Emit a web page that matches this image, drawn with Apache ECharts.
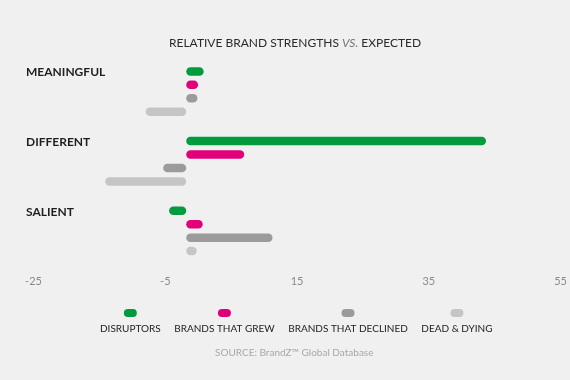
<!DOCTYPE html>
<html>
<head>
<meta charset="utf-8">
<script src="https://cdn.jsdelivr.net/npm/echarts@6/dist/echarts.min.js"></script>
<style>
  html, body { margin: 0; padding: 0; background: #f0f0f0; }
  #chart { width: 570px; height: 380px; }
</style>
</head>
<body>
<div id="chart"></div>
<script>
// ---- data ----
var categories = ['MEANINGFUL', 'DIFFERENT', 'SALIENT'];
var seriesNames = ['DISRUPTORS', 'BRANDS THAT GREW', 'BRANDS THAT DECLINED', 'DEAD & DYING'];
var disruptors = [2.65, 45.5, -2.6];
var brandsGrew = [1.8, 8.8, 2.5];
var brandsDeclined = [1.7, -3.5, 13.1];
var deadDying = [-6.15, -12.3, 1.6];
var xTicks = [-25, -5, 15, 35, 55];
var titleParts = ['RELATIVE BRAND STRENGTHS ', 'VS.', ' EXPECTED'];
var sourceText = 'SOURCE: BrandZ\u2122 Global Database';

var colors = ['#049b3e', '#e2007a', '#9b9b9b', '#c5c5c5'];
var seriesData = [disruptors, brandsGrew, brandsDeclined, deadDying];

var chart = echarts.init(document.getElementById('chart'));

var legendRich = { t: { fontFamily: 'Lato', fontSize: 10, color: '#222', align: 'center', lineHeight: 14 } };
colors.forEach(function (c, i) {
  legendRich['d' + i] = { backgroundColor: c, width: 13, height: 8, borderRadius: 4, align: 'center', lineHeight: 18 };
});

var option = {
  backgroundColor: '#f0f0f0',
  animation: false,
  title: [
    {
      text: '{a|' + titleParts[0] + '}{b|' + titleParts[1] + '}{a|' + titleParts[2] + '}',
      left: 164, top: 32,
      textStyle: {
        fontWeight: 'normal',
        rich: {
          a: { fontFamily: 'Lato', fontSize: 12, color: '#2a2a2a', fontWeight: 'normal' },
          b: { fontFamily: 'Lato', fontSize: 12, color: '#777', fontStyle: 'italic', fontWeight: 'normal' }
        }
      }
    },
    {
      text: sourceText,
      left: 210, top: 343,
      textStyle: { fontFamily: 'Lato', fontSize: 10, color: '#a8a8a8', fontWeight: 'normal' }
    }
  ],
  legend: {
    data: seriesNames,
    left: 90, top: 302,
    icon: 'none',
    itemWidth: 0, itemHeight: 0,
    itemGap: 8.5,
    formatter: function (name) {
      var i = seriesNames.indexOf(name);
      return '{d' + i + '|}\n{t|' + name + '}';
    },
    textStyle: { rich: legendRich, padding: 0 },
    selectedMode: false
  },
  grid: { left: 21.5, right: 20.5, top: 56.75, height: 209, containLabel: false },
  xAxis: {
    type: 'value', min: -25, max: 55, interval: 20,
    axisLine: { show: false }, axisTick: { show: false }, splitLine: { show: false },
    axisLabel: { fontFamily: 'Lato', fontSize: 11, color: '#8a8a8a', margin: 10, padding: [0, 0, 0, 24] }
  },
  yAxis: {
    type: 'category', data: categories, inverse: true,
    axisLine: { show: false }, axisTick: { show: false }, splitLine: { show: false },
    axisLabel: {
      align: 'left', margin: -4.5,
      formatter: function (v) { return '{a|' + v + '}\n{b| }'; },
      rich: {
        a: { fontFamily: 'Lato', fontSize: 12, fontWeight: 'bold', color: '#1e1e1e', lineHeight: 14 },
        b: { fontSize: 10, lineHeight: 38 }
      }
    }
  },
  series: seriesNames.map(function (n, i) {
    return {
      name: n, type: 'bar', data: seriesData[i],
      barWidth: 8.5, barGap: '58%',
      itemStyle: { color: colors[i], borderRadius: 4.25 }
    };
  })
};
chart.setOption(option);
</script>
</body>
</html>
